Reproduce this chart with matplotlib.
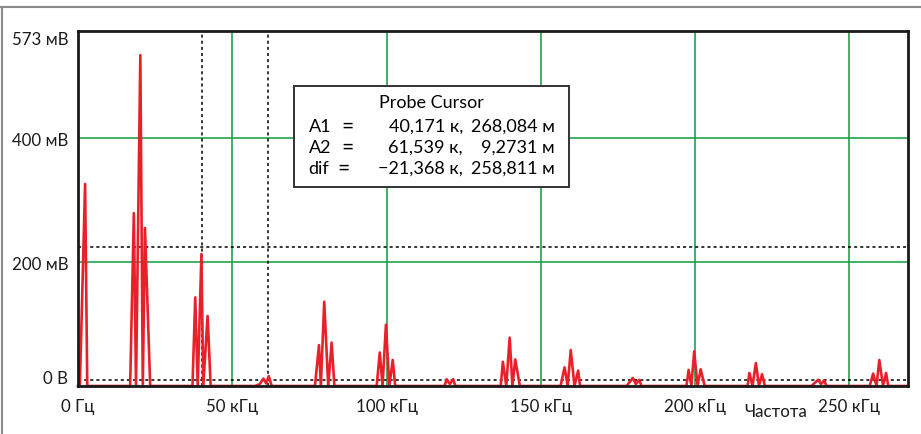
import matplotlib.pyplot as plt
from matplotlib.lines import Line2D
from matplotlib.patches import Rectangle

plt.rcParams['font.family'] = ['Lato', 'DejaVu Sans']

# spectrum, kHz / mV
freq = [0, 0.6, 2.3, 3.0,
        16.9, 18.1, 18.8, 20.2, 21.0, 21.7, 23.4,
        37.1, 38.0, 38.8, 40.0, 40.6, 42.0, 43.0,
        57.4, 58.9, 60.1, 61.0, 61.8, 62.8,
        76.8, 78.1, 78.7, 79.8, 81.1, 82.2, 83.1,
        96.8, 97.8, 98.7, 99.8, 100.9, 102.0, 102.8,
        118.8, 119.5, 120.5, 121.6, 122.3,
        137.0, 137.7, 138.8, 139.9, 140.8, 141.7, 143.2,
        156.4, 157.7, 158.7, 159.7, 160.9, 162.1, 162.7,
        177.8, 179.8, 180.8, 181.9, 182.6,
        197.2, 197.9, 198.8, 199.7, 200.8, 201.8, 203.1,
        217.0, 217.6, 218.6, 219.7, 220.7, 221.7, 222.6,
        237.7, 239.9, 240.8, 241.8, 242.6,
        256.6, 257.7, 258.8, 259.7, 260.9, 261.9, 262.6,
        269]
amp = [0, 0, 326, 0,
       0, 279, 0, 534, 0, 255, 0,
       0, 143, 0, 213, 0, 113, 0,
       0, 3, 12, 4, 16, 0,
       0, 66, 0, 136, 0, 70, 0,
       0, 54, 0, 99, 0, 42, 0,
       0, 11, 3, 11, 0,
       0, 39, 0, 78, 0, 43, 0,
       0, 30, 0, 58, 0, 25, 0,
       0, 13, 3, 10, 0,
       0, 26, 0, 56, 0, 27, 0,
       0, 21, 0, 37, 0, 19, 0,
       0, 10, 3, 9, 0,
       0, 20, 0, 42, 0, 21, 0,
       0]

x_ticks = [0, 50, 100, 150, 200, 250]
x_labels = ["0 Гц", "50 кГц", "100 кГц", "150 кГц", "200 кГц", "250 кГц"]
y_ticks = [0, 200, 400, 573]
y_labels = ["0 В", "200 мВ", "400 мВ", "573 мВ"]

# probe cursor values
a1 = (40.171, 268.084)
a2 = (61.539, 9.2731)
cursor_h = [224, 9.27]   # horizontal dotted lines as drawn
rows = [("A1", "40,171 к,", "268,084 м"),
        ("A2", "61,539 к,", "9,2731 м"),
        ("dif", "−21,368 к,", "258,811 м")]

fig = plt.figure(figsize=(9.21, 4.35), dpi=100)
ax = fig.add_axes([78 / 921, 1 - 387 / 435, 830 / 921, 355 / 435])

green = "#1fa34a"
for xv in x_ticks[1:]:
    ax.axvline(xv, color=green, lw=1.2, zorder=1)
for yv in [200, 400]:
    ax.axhline(yv, color=green, lw=1.2, zorder=1)

for xv in [a1[0], a2[0]]:
    ax.axvline(xv, color="black", lw=1.1, ls=(0, (2, 2)), zorder=2)
for yv in cursor_h:
    ax.axhline(yv, color="black", lw=1.1, ls=(0, (2, 2)), zorder=2)

ax.plot(freq, amp, color="#e8202a", lw=1.9, zorder=3, clip_on=False)

ax.set_xlim(0, 269)
ax.set_ylim(0, 573)
ax.set_xticks(x_ticks)
ax.set_xticklabels(x_labels)
ax.set_yticks(y_ticks)
ax.set_yticklabels(y_labels)
ax.tick_params(axis="both", length=0, labelsize=12.2, colors="#1a1a1a")
ax.tick_params(axis="x", pad=9)
ax.tick_params(axis="y", pad=7)
ylab = ax.get_yticklabels()
ylab[0].set_va("bottom")
ylab[-1].set_va("top")

for s in ax.spines.values():
    s.set_linewidth(2)
    s.set_color("#1a1a1a")
    s.set_zorder(4)

# probe cursor box
ax.add_patch(Rectangle((0.260, 0.5606), 0.3316, 0.2844, transform=ax.transAxes,
                       facecolor="white", edgecolor="#333333", lw=1.4, zorder=5))
ax.text(0.426, 0.80, "Probe Cursor", transform=ax.transAxes, ha="center",
        va="center", fontsize=13, zorder=6)
for i, (lab, v1, v2) in enumerate(rows):
    yy = 0.733 - i * 0.059
    ax.text(0.278, yy, lab, transform=ax.transAxes, ha="left", va="center",
            fontsize=13, zorder=6)
    eq_x = 0.317 if lab != "dif" else 0.313
    ax.text(eq_x, yy, "=", transform=ax.transAxes, ha="left", va="center",
            fontsize=15, zorder=6)
    ax.text(0.4639, yy, v1, transform=ax.transAxes, ha="right", va="center",
            fontsize=13, zorder=6)
    ax.text(0.5747, yy, v2, transform=ax.transAxes, ha="right", va="center",
            fontsize=13, zorder=6)

fig.text(776 / 921, 1 - 412 / 435, "Частота", ha="center", va="center",
         fontsize=12.2, color="#1a1a1a")

# outer frame (top and left only)
fig.add_artist(Line2D([0, 1], [1 - 8 / 435, 1 - 8 / 435], color="#8a8a8a", lw=1.5,
                      transform=fig.transFigure))
fig.add_artist(Line2D([1.5 / 921, 1.5 / 921], [0, 1 - 8 / 435], color="#8a8a8a", lw=1.5,
                      transform=fig.transFigure))

fig.savefig("out.png", dpi=100)
